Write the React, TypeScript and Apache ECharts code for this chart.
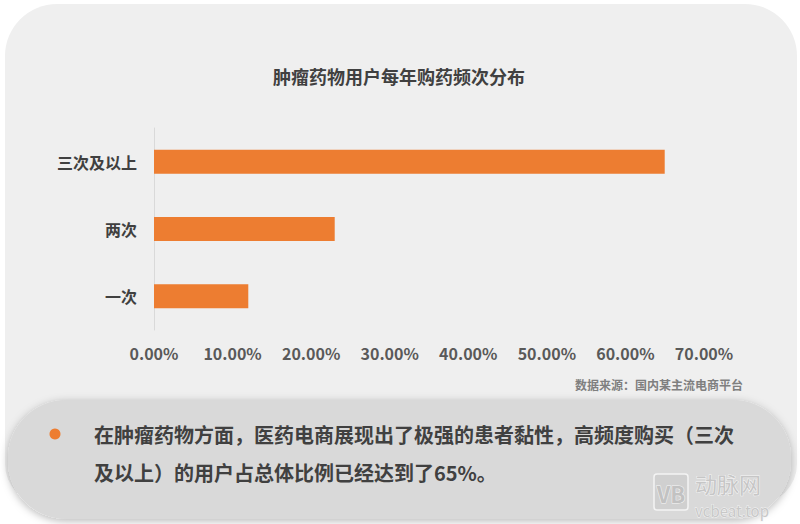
import React, { useEffect, useRef } from "react";
import * as echarts from "echarts";

const categories = ["一次", "两次", "三次及以上"];
const values = [12, 23, 65];
const xTicksMax = 70;
const xTickStep = 10;
const titleText = "肿瘤药物用户每年购药频次分布";
const sourceText = "数据来源：国内某主流电商平台";
const noteLine1 = "在肿瘤药物方面，医药电商展现出了极强的患者黏性，高频度购买（三次";
const noteLine2 = "及以上）的用户占总体比例已经达到了65%。";

const FONT = '"Noto Sans CJK SC", "Noto Sans", sans-serif';

export default function App() {
  const ref = useRef<HTMLDivElement>(null);
  useEffect(() => {
    if (!ref.current) return;
    const chart = echarts.init(ref.current, null, { renderer: "svg" });
    chart.setOption({
      animation: false,
      backgroundColor: "#ffffff",
      textStyle: { fontFamily: FONT },
      grid: { left: 154, right: 96, top: 128, bottom: 194, containLabel: false },
      xAxis: {
        type: "value",
        min: 0,
        max: xTicksMax,
        interval: xTickStep,
        axisLine: { show: false },
        axisTick: { show: false },
        splitLine: { show: false },
        axisLabel: {
          margin: 15,
          color: "#595959",
          fontSize: 16,
          fontWeight: "bold",
          fontFamily: FONT,
          formatter: (v: number) => v.toFixed(2) + "%",
        },
      },
      yAxis: {
        type: "category",
        data: categories,
        axisLine: { show: true, lineStyle: { color: "#d9d9d9", width: 1 } },
        axisTick: { show: false },
        splitLine: { show: false },
        axisLabel: {
          margin: 17,
          color: "#404040",
          fontSize: 16,
          fontWeight: "bold",
          fontFamily: FONT,
        },
      },
      series: [
        {
          type: "bar",
          data: values,
          barWidth: 24,
          itemStyle: { color: "#ed7d31" },
          z: 3,
        },
      ],
      graphic: [
        {
          type: "rect",
          z: -10,
          silent: true,
          shape: { x: 5, y: 4, width: 792, height: 500, r: [52, 52, 40, 40] },
          style: { fill: "#efefef" },
        },
        {
          type: "text",
          x: 399,
          y: 76,
          style: {
            text: titleText,
            fill: "#404040",
            font: `bold 18px ${FONT}`,
            textAlign: "center",
            textVerticalAlign: "middle",
          },
        },
        {
          type: "text",
          x: 743,
          y: 384,
          style: {
            text: sourceText,
            fill: "#7f7f7f",
            font: `bold 12px ${FONT}`,
            textAlign: "right",
            textVerticalAlign: "middle",
          },
        },
        {
          type: "rect",
          z: 5,
          silent: true,
          shape: { x: 8, y: 400, width: 783, height: 119, r: 58 },
          style: {
            fill: "#d9d9d9",
            shadowBlur: 8,
            shadowColor: "rgba(0,0,0,0.28)",
            shadowOffsetX: 0,
            shadowOffsetY: 2,
          },
        },
        {
          type: "circle",
          z: 6,
          shape: { cx: 55, cy: 434, r: 5.5 },
          style: { fill: "#ed7d31" },
        },
        {
          type: "text",
          z: 6,
          x: 94,
          y: 434,
          style: {
            text: noteLine1,
            fill: "#404040",
            font: `bold 20px ${FONT}`,
            textAlign: "left",
            textVerticalAlign: "middle",
          },
        },
        {
          type: "text",
          z: 6,
          x: 94,
          y: 472,
          style: {
            text: noteLine2,
            fill: "#404040",
            font: `bold 20px ${FONT}`,
            textAlign: "left",
            textVerticalAlign: "middle",
          },
        },
        {
          type: "rect",
          z: 8,
          shape: { x: 654, y: 474, width: 34, height: 36, r: 3 },
          style: { fill: "rgba(200,200,200,0.5)", stroke: "#f4f4f4", lineWidth: 1.5 },
        },
        {
          type: "text",
          z: 9,
          x: 671,
          y: 493,
          style: {
            text: "VB",
            fill: "#c2c2c2",
            stroke: "#f6f6f6",
            lineWidth: 1,
            font: `bold 22px ${FONT}`,
            textAlign: "center",
            textVerticalAlign: "middle",
          },
        },
        {
          type: "text",
          z: 9,
          x: 695,
          y: 483,
          style: {
            text: "动脉网",
            fill: "#c6c6c6",
            stroke: "#f6f6f6",
            lineWidth: 1,
            font: `22px ${FONT}`,
            textAlign: "left",
            textVerticalAlign: "middle",
          },
        },
        {
          type: "text",
          z: 9,
          x: 695,
          y: 510,
          style: {
            text: "vcbeat.top",
            fill: "#c8c8c8",
            stroke: "#f6f6f6",
            lineWidth: 0.8,
            font: `15px ${FONT}`,
            textAlign: "left",
            textVerticalAlign: "middle",
          },
        },
      ],
    });
    return () => chart.dispose();
  }, []);
  return (
    <div
      ref={ref}
      style={{ position: "absolute", left: 0, top: 0, width: 800, height: 524 }}
    />
  );
}
